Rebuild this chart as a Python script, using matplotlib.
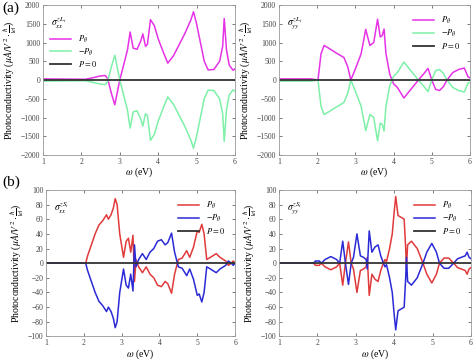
"""Photoconductivity spectra for the four tensor components (P_theta, -P_theta, P=0)."""

import matplotlib

matplotlib.use("Agg")

import matplotlib.pyplot as plt
import numpy as np

plt.rcParams["font.family"] = ["Liberation Serif", "DejaVu Serif"]
plt.rcParams["mathtext.fontset"] = "stix"

# (a) left: sigma_xx^{zL}
w_xx_L = [1.0, 1.5, 2.1, 2.3, 2.5, 2.62, 2.68, 2.78, 2.87, 3.0, 3.1, 3.2, 3.27, 3.35, 3.45, 3.55,
          3.6, 3.67, 3.72, 3.8, 3.9, 4.0, 4.15, 4.25, 4.4, 4.55, 4.7, 4.85, 4.92, 5.0, 5.1, 5.2,
          5.3, 5.45, 5.6, 5.68, 5.72, 5.78, 5.85, 5.95, 6.0]
p_xx_L = [30, 25, 20, 60, 110, 120, 50, -350, -660, 0, 400, 800, 1280, 850, 820, 1050,
          1230, 900, 950, 1610, 1450, 1100, 700, 450, 650, 950, 1250, 1600, 1820, 1500, 1000, 500,
          270, 280, 500, 900, 1640, 800, 400, 260, 300]

# (a) right: sigma_yy^{zL}
w_yy_L = [1.0, 1.85, 1.95, 2.02, 2.1, 2.18, 2.3, 2.5, 2.7, 2.8, 2.88, 3.0, 3.15, 3.27, 3.38, 3.48,
          3.58, 3.65, 3.7, 3.75, 3.8, 3.9, 4.0, 4.1, 4.27, 4.45, 4.65, 4.8, 4.9, 5.0, 5.1, 5.2,
          5.3, 5.4, 5.55, 5.7, 5.85, 5.95, 6.0]
p_yy_L = [30, 30, 10, 0, 700, 920, 850, 720, 600, 350, 0, 300, 700, 1350, 920, 1000,
          1620, 1150, 1180, 1360, 700, 150, -100, -200, -480, -250, 0, 180, 310, 0, -250, -280,
          -180, 0, 200, 280, 320, 80, 60]

# (b) left: sigma_xx^{zS}
w_xx_S = [1.0, 2.05, 2.1, 2.2, 2.3, 2.4, 2.5, 2.6, 2.65, 2.72, 2.78, 2.83, 2.88, 2.95, 3.05, 3.12,
          3.18, 3.24, 3.3, 3.34, 3.38, 3.45, 3.55, 3.65, 3.75, 3.85, 3.95, 4.05, 4.15, 4.22, 4.32,
          4.4, 4.5, 4.6, 4.72, 4.8, 4.9, 5.0, 5.05, 5.12, 5.18, 5.25, 5.35, 5.5, 5.6, 5.75, 5.82,
          5.9, 5.95, 6.0]
p_xx_S = [0, 0, 10, 25, 40, 52, 58, 66, 60, 66, 75, 88, 80, 40, 8, 30,
          34, 15, 38, -25, 5, -5, -13, -5, -15, -20, -30, -32, -25, -28, -41,
          -15, 5, 7, 17, 8, 22, 44, 42, 53, 40, 5, 8, 13, 8, 3, -3,
          0, 3, 0]

# (b) right: sigma_yy^{zS}
w_yy_S = [1.0, 1.9, 1.95, 2.0, 2.05, 2.1, 2.2, 2.35, 2.5, 2.58, 2.66, 2.73, 2.81, 2.88, 2.94, 3.03,
          3.12, 3.2, 3.27, 3.3, 3.35, 3.42, 3.5, 3.58, 3.65, 3.72, 3.76, 3.8, 3.88, 3.95, 4.0,
          4.04, 4.1, 4.2, 4.26, 4.3, 4.32, 4.35, 4.45, 4.6, 4.75, 4.85, 4.98, 5.1, 5.18, 5.3,
          5.42, 5.55, 5.65, 5.75, 5.85, 5.9, 5.95, 6.0]
p_yy_S = [0, 0, -3, -3, -3, 0, -5, -9, -5, 0, -30, 0, 29, 0, -8, -40,
          -10, -8, -5, 8, -44, -15, -22, -25, -10, 0, 5, 2, 20, 40, 70,
          91, 65, 62, 60, 20, -8, 25, 30, 20, 0, -15, -27, -15, 0, 7,
          7, 0, -6, -8, -10, -15, -8, -6]

LEGEND_LABELS = [r"$P_{\theta}$", r"$-P_{\theta}$", r"$P=0$"]


def draw(ax, w, p, colors, label, ylim, yticks, legend_loc):
    w = np.asarray(w)
    p = np.asarray(p, dtype=float)
    ax.plot(w, p, color=colors[0], lw=1.1, label=LEGEND_LABELS[0])
    ax.plot(w, -p, color=colors[1], lw=1.1, label=LEGEND_LABELS[1])
    ax.axhline(0, color="#333333", lw=1.3, label=LEGEND_LABELS[2])
    ax.set_xlim(1, 6)
    ax.set_ylim(*ylim)
    ax.set_yticks(yticks)
    ax.set_xticks([1, 2, 3, 4, 5, 6])
    ax.tick_params(direction="in", length=2, width=0.5, labelsize=5.5, pad=2,
                   top=True, right=True, colors="#444444")
    for s in ax.spines.values():
        s.set_color("#999999")
        s.set_linewidth(0.6)
    ax.set_xlabel(r"$\omega$ (eV)", fontsize=7, labelpad=0)
    ax.set_ylabel(r"Photoconductivity ($\mu A/V^2\cdot\frac{\hbar}{|e|}$)", fontsize=7, labelpad=1)
    ax.text(0.04, 0.93, label, transform=ax.transAxes, fontsize=7, va="top")
    ax.legend(loc=legend_loc, frameon=False, fontsize=6, handlelength=2.5,
              borderaxespad=0.8, labelspacing=0.2)


fig = plt.figure(figsize=(4.74, 3.61), dpi=100)
ax1 = fig.add_axes([0.0907, 0.5706, 0.405, 0.4155])
ax2 = fig.add_axes([0.5886, 0.5706, 0.403, 0.4155])
ax3 = fig.add_axes([0.097, 0.068, 0.399, 0.406])
ax4 = fig.add_axes([0.5886, 0.068, 0.405, 0.406])

L_TICKS = np.arange(-2000, 2001, 500)
S_TICKS = np.arange(-100, 101, 20)
draw(ax1, w_xx_L, p_xx_L, ["#e632e6", "#7ef0a8"], r"$\sigma_{xx}^{zL_i}$", (-2000, 2000), L_TICKS,
     (0.02, 0.55))
draw(ax2, w_yy_L, p_yy_L, ["#e632e6", "#7ef0a8"], r"$\sigma_{yy}^{zL_i}$", (-2000, 2000), L_TICKS,
     "upper right")
draw(ax3, w_xx_S, p_xx_S, ["#e03a3a", "#2a2ad6"], r"$\sigma_{xx}^{zS_i}$", (-100, 100), S_TICKS,
     "upper right")
draw(ax4, w_yy_S, p_yy_S, ["#e03a3a", "#2a2ad6"], r"$\sigma_{yy}^{zS_i}$", (-100, 100), S_TICKS,
     "upper right")

fig.text(0.005, 0.995, "(a)", fontsize=11, va="top")
fig.text(0.005, 0.515, "(b)", fontsize=11, va="top")

fig.savefig("out.png", dpi=100)
